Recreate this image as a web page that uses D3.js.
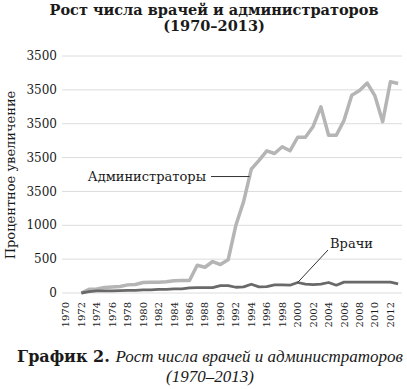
<!DOCTYPE html>
<html>
<head>
<meta charset="utf-8">
<script src="https://cdn.jsdelivr.net/npm/d3@7"></script>
<style>
  body { margin: 0; background: #fff; }
  text { font-family: "DejaVu Serif", serif; fill: #1a1a1a; }
</style>
</head>
<body>
<div id="chart"></div>
<script>
// Data (percent increase since 1970)
const years = d3.range(1970, 2014);
const tickYears = d3.range(1970, 2013, 2);
const yTicks = [0, 500, 1000, 1500, 2000, 2500, 3000, 3500];
// labels as printed in the original (top labels all read "3500")
const yTickLabels = ["0", "500", "1000", "3500", "3500", "3500", "3500", "3500"];

const adminYears = d3.range(1972, 2014);
const adminValues = [0, 55, 60, 80, 90, 95, 120, 125, 155, 160, 160, 165, 180, 185, 185,
    410, 380, 465, 420, 490, 1000, 1350, 1830, 1960, 2100, 2060, 2160, 2100, 2300, 2300,
    2460, 2750, 2330, 2330, 2550, 2920, 2990, 3100, 2910, 2530, 3120, 3095];

const docYears = d3.range(1972, 2014);
const docValues = [0, 20, 30, 30, 30, 35, 40, 40, 45, 45, 55, 55, 60, 60, 75,
    78, 80, 80, 110, 110, 85, 90, 130, 90, 95, 120, 120, 115, 155, 130,
    125, 130, 155, 115, 160, 160, 160, 160, 160, 160, 160, 135];

const width = 407, height = 389;

const svg = d3.select("#chart")
    .append("svg")
    .attr("width", width)
    .attr("height", height);

svg.append("rect").attr("width", width).attr("height", height).attr("fill", "#fff");

// Title
svg.append("text")
    .attr("x", 214).attr("y", 15)
    .attr("text-anchor", "middle")
    .style("font-weight", "bold").style("font-size", "14.5px")
    .text("Рост числа врачей и администраторов");
svg.append("text")
    .attr("x", 214).attr("y", 31)
    .attr("text-anchor", "middle")
    .style("font-weight", "bold").style("font-size", "14.5px")
    .text("(1970–2013)");

// Scales
const x = d3.scaleBand().domain(years).range([62, 402]);
const cx = yr => x(yr) + x.bandwidth() / 2;
const y = d3.scaleLinear().domain([0, 3500]).range([293, 56]);

// Gridlines
svg.append("g")
    .selectAll("line")
    .data(yTicks)
    .enter().append("line")
    .attr("x1", 62).attr("x2", 402)
    .attr("y1", d => y(d)).attr("y2", d => y(d))
    .attr("stroke", "#dcdcdc")
    .attr("stroke-width", 1);

// Y tick labels
svg.append("g")
    .selectAll("text")
    .data(yTicks)
    .enter().append("text")
    .attr("x", 57)
    .attr("y", d => y(d))
    .attr("dy", "0.35em")
    .attr("text-anchor", "end")
    .style("font-size", "12px")
    .text((d, i) => yTickLabels[i]);

// X tick labels (rotated)
svg.append("g")
    .selectAll("text")
    .data(tickYears)
    .enter().append("text")
    .attr("transform", d => "translate(" + cx(d) + ",302) rotate(-90)")
    .attr("dy", "0.35em")
    .attr("text-anchor", "end")
    .style("font-size", "10px")
    .text(d => d);

// Y axis title
svg.append("text")
    .attr("transform", "translate(15,175) rotate(-90)")
    .attr("text-anchor", "middle")
    .style("font-size", "13px")
    .text("Процентное увеличение");

// Lines
const line = d3.line()
    .x(d => cx(d[0]))
    .y(d => y(d[1]));

const adminData = adminYears.map((yr, i) => [yr, adminValues[i]]);
const docData = docYears.map((yr, i) => [yr, docValues[i]]);

svg.append("path")
    .datum(adminData)
    .attr("d", line)
    .attr("fill", "none")
    .attr("stroke", "#b5b5b5")
    .attr("stroke-width", 3.5)
    .attr("stroke-linejoin", "round");

svg.append("path")
    .datum(docData)
    .attr("d", line)
    .attr("fill", "none")
    .attr("stroke", "#696969")
    .attr("stroke-width", 2.8)
    .attr("stroke-linejoin", "round");

// Series labels with leader lines
const adminLeaderV = 1720;
const a0 = adminData.find(d => d[0] === 1993), a1 = adminData.find(d => d[0] === 1994);
const t = (adminLeaderV - a0[1]) / (a1[1] - a0[1]);
const adminLeaderX = cx(1993) + t * (cx(1994) - cx(1993));

svg.append("line")
    .attr("x1", 211).attr("x2", adminLeaderX)
    .attr("y1", y(adminLeaderV)).attr("y2", y(adminLeaderV))
    .attr("stroke", "#333").attr("stroke-width", 1);
svg.append("text")
    .attr("x", 206).attr("y", y(adminLeaderV))
    .attr("dy", "0.35em")
    .attr("text-anchor", "end")
    .style("font-size", "13px")
    .text("Администраторы");

const docPoint = docData.find(d => d[0] === 2000);
svg.append("line")
    .attr("x1", 328).attr("y1", 250)
    .attr("x2", cx(docPoint[0])).attr("y2", y(docPoint[1]))
    .attr("stroke", "#333").attr("stroke-width", 1);
svg.append("text")
    .attr("x", 330).attr("y", 248)
    .style("font-size", "13px")
    .text("Врачи");

// Caption
const cap = svg.append("text")
    .attr("x", 210).attr("y", 362)
    .attr("text-anchor", "middle");
cap.append("tspan")
    .style("font-weight", "bold").style("font-size", "16px")
    .text("График 2. ");
cap.append("tspan")
    .style("font-family", "'Liberation Serif', serif")
    .style("font-style", "italic").style("font-size", "17px")
    .text("Рост числа врачей и администраторов");
svg.append("text")
    .attr("x", 210).attr("y", 382)
    .attr("text-anchor", "middle")
    .style("font-family", "'Liberation Serif', serif")
    .style("font-style", "italic").style("font-size", "17px")
    .text("(1970–2013)");
</script>
</body>
</html>
